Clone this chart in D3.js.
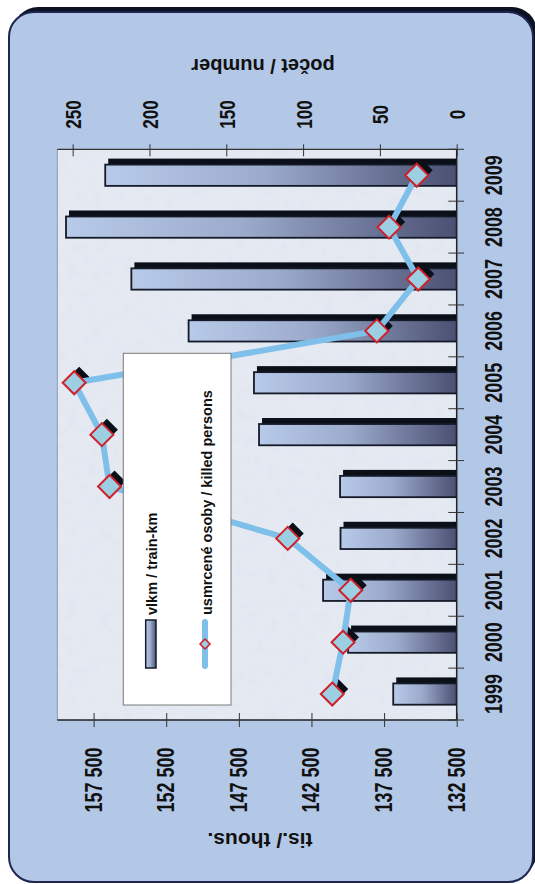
<!DOCTYPE html>
<html>
<head>
<meta charset="utf-8">
<script src="https://cdn.jsdelivr.net/npm/d3@7"></script>
<style>
  html, body { margin: 0; padding: 0; background: #ffffff; }
  svg { display: block; }
  text { font-family: "Liberation Sans", Arial, sans-serif; font-weight: bold; fill: #111; }
</style>
</head>
<body>
<svg id="chart" width="535" height="884"></svg>
<script>
// ---- data ----
const years = ["1999", "2000", "2001", "2002", "2003", "2004", "2005", "2006", "2007", "2008", "2009"];
const trainKm = [136870, 139980, 141700, 140500, 140530, 146110, 146460, 150960, 154900, 159400, 156700];
const killed = [81, 74, 69, 110, 226, 231, 249, 52, 25, 44, 26];
const trainKmTicks = [132500, 137500, 142500, 147500, 152500, 157500];
const killedTicks = [0, 50, 100, 150, 200, 250];
const trainKmDomain = [132500, 160000];
const killedDomain = [0, 260];
const legendLabels = ["vlkm / train-km", "usmrcené osoby / killed persons"];
const axisTitles = { trainKm: "tis./ thous.", killed: "počet / number" };

// ---- layout (screen coords; chart is rotated 90° CCW) ----
const plot = { left: 57.3, right: 456.7, top: 149.3, bottom: 720 };
const svg = d3.select("#chart");
const defs = svg.append("defs");

const grad = defs.append("linearGradient").attr("id", "barGrad")
  .attr("x1", 0).attr("y1", 0).attr("x2", 1).attr("y2", 0);
grad.append("stop").attr("offset", 0).attr("stop-color", "#b8cae9");
grad.append("stop").attr("offset", 0.45).attr("stop-color", "#9cabcc");
grad.append("stop").attr("offset", 1).attr("stop-color", "#4b5073");

const noise = defs.append("filter").attr("id", "noise").attr("x", 0).attr("y", 0).attr("width", 1).attr("height", 1);
noise.append("feTurbulence").attr("type", "fractalNoise").attr("baseFrequency", 0.09).attr("numOctaves", 3).attr("seed", 7);
noise.append("feColorMatrix").attr("type", "matrix")
  .attr("values", "0 0 0 0 0.70  0 0 0 0 0.74  0 0 0 0 0.82  1.6 0 0 0 -0.75");

defs.append("clipPath").attr("id", "plotClip").append("rect")
  .attr("x", plot.left).attr("y", plot.top)
  .attr("width", plot.right - plot.left).attr("height", plot.bottom - plot.top);

// panel
const panel = { x: 9, y: 12, w: 524, h: 870, r: 25 };
svg.append("rect").attr("x", panel.x + 4).attr("y", panel.y - 5).attr("width", panel.w).attr("height", panel.h)
  .attr("rx", panel.r).attr("fill", "#0c1222");
svg.append("rect").attr("x", panel.x).attr("y", panel.y).attr("width", panel.w).attr("height", panel.h)
  .attr("rx", panel.r).attr("fill", "#b3c8e6").attr("stroke", "#1d2550").attr("stroke-width", 2);

// plot background
svg.append("rect").attr("x", plot.left).attr("y", plot.top)
  .attr("width", plot.right - plot.left).attr("height", plot.bottom - plot.top)
  .attr("fill", "#e4e9f2");
svg.append("rect").attr("x", plot.left).attr("y", plot.top)
  .attr("width", plot.right - plot.left).attr("height", plot.bottom - plot.top)
  .attr("filter", "url(#noise)").attr("opacity", 0.5);

// scales
const yBand = d3.scaleBand().domain(years).range([plot.bottom, plot.top]);
const xKm = d3.scaleLinear().domain(trainKmDomain).range([plot.right, plot.left]);
const xKilled = d3.scaleLinear().domain(killedDomain).range([plot.right, plot.left]);
const barH = yBand.bandwidth() * 0.41;
const cy = d => yBand(d) + yBand.bandwidth() / 2;

const gPlot = svg.append("g").attr("clip-path", "url(#plotClip)");

// bar shadows + bars
gPlot.selectAll("rect.shadow").data(years).join("rect").attr("class", "shadow")
  .attr("x", (d, i) => xKm(trainKm[i]) + 3)
  .attr("y", d => cy(d) - barH / 2 - 6)
  .attr("width", (d, i) => plot.right - xKm(trainKm[i]))
  .attr("height", barH)
  .attr("fill", "#0b0f18");
gPlot.selectAll("rect.bar").data(years).join("rect").attr("class", "bar")
  .attr("x", (d, i) => xKm(trainKm[i]))
  .attr("y", d => cy(d) - barH / 2)
  .attr("width", (d, i) => plot.right - xKm(trainKm[i]))
  .attr("height", barH)
  .attr("fill", "url(#barGrad)").attr("stroke", "#151a28").attr("stroke-width", 1.8);

// line
const pts = years.map((d, i) => [xKilled(killed[i]), cy(d)]);
const diamond = (x, y, r) => `M${x},${y - r}L${x + r},${y}L${x},${y + r}L${x - r},${y}Z`;
gPlot.selectAll("path.mshadow").data(pts).join("path").attr("class", "mshadow")
  .attr("d", p => diamond(p[0] + 5, p[1] - 5, 11)).attr("fill", "#0b0f18");
gPlot.append("path").attr("d", d3.line()(pts))
  .attr("fill", "none").attr("stroke", "#7fc0ea").attr("stroke-width", 6).attr("stroke-linejoin", "round");
gPlot.selectAll("path.marker").data(pts).join("path").attr("class", "marker")
  .attr("d", p => diamond(p[0], p[1], 11.5))
  .attr("fill", "#9dcfe3").attr("stroke", "#d0202a").attr("stroke-width", 2);

// plot borders
svg.append("line").attr("x1", plot.left).attr("x2", plot.left).attr("y1", plot.top).attr("y2", plot.bottom)
  .attr("stroke", "#8a98b0").attr("stroke-width", 1);
svg.append("line").attr("x1", plot.left).attr("x2", plot.right).attr("y1", plot.top).attr("y2", plot.top)
  .attr("stroke", "#333").attr("stroke-width", 1.2);
svg.append("line").attr("x1", plot.left).attr("x2", plot.right).attr("y1", plot.bottom).attr("y2", plot.bottom)
  .attr("stroke", "#222").attr("stroke-width", 1.5);
svg.append("line").attr("x1", plot.right).attr("x2", plot.right).attr("y1", plot.top).attr("y2", plot.bottom)
  .attr("stroke", "#222").attr("stroke-width", 1.5);

const fmt = d => d3.format(",")(d).replace(/,/g, " ");
const labScale = "scale(0.78,1)";

// bottom axis (train-km)
const gB = svg.append("g").attr("transform", `translate(0,${plot.bottom})`)
  .call(d3.axisBottom(xKm).tickValues(trainKmTicks).tickFormat(fmt).tickSize(7));
gB.select(".domain").remove();
gB.selectAll(".tick line").attr("y1", -7).attr("stroke", "#333");
gB.selectAll(".tick text").attr("y", null).attr("dy", null)
  .attr("text-anchor", "middle").attr("font-size", 23).attr("fill", "#111")
  .attr("transform", `translate(7.5,60) rotate(-90) ${labScale}`);

// top axis (killed)
const gT = svg.append("g").attr("transform", `translate(0,${plot.top})`)
  .call(d3.axisTop(xKilled).tickValues(killedTicks).tickSize(5));
gT.select(".domain").remove();
gT.selectAll(".tick line").attr("y1", 7).attr("stroke", "#333");
gT.selectAll(".tick text").attr("y", null).attr("dy", null)
  .attr("text-anchor", "middle").attr("font-size", 22).attr("fill", "#111")
  .attr("transform", `translate(8,-34.8) rotate(-90) ${labScale}`);

// year axis
const gY = svg.append("g").attr("transform", `translate(${plot.right},0)`)
  .call(d3.axisRight(yBand).tickSize(0));
gY.select(".domain").remove();
gY.selectAll(".tick text").attr("x", null).attr("dy", null)
  .attr("text-anchor", "middle").attr("font-size", 23).attr("fill", "#111")
  .attr("transform", `translate(45,0) rotate(-90) ${labScale}`);
const bounds = years.map(d => yBand(d)).concat([yBand(years[0]) + yBand.bandwidth()]);
gY.selectAll("line.bt").data(bounds).join("line").attr("class", "bt")
  .attr("x1", -8.4).attr("x2", 7.3).attr("y1", d => d).attr("y2", d => d)
  .attr("stroke", "#333").attr("stroke-width", 1);

// axis titles (upside down)
svg.append("text").text(axisTitles.killed).attr("font-size", 20).attr("text-anchor", "middle")
  .attr("transform", "translate(263,58.8) rotate(180)");
svg.append("text").text(axisTitles.trainKm).attr("font-size", 21).attr("text-anchor", "middle")
  .attr("transform", "translate(260,833) rotate(180)");

// legend
svg.append("rect").attr("x", 123.3).attr("y", 353.3).attr("width", 107.7).attr("height", 351.7)
  .attr("fill", "#ffffff").attr("stroke", "#7a7a7a").attr("stroke-width", 1);
svg.append("rect").attr("x", 145.7).attr("y", 620).attr("width", 10.3).attr("height", 48)
  .attr("fill", "url(#barGrad)").attr("stroke", "#151a28").attr("stroke-width", 1.5);
svg.append("line").attr("x1", 205).attr("x2", 205).attr("y1", 622).attr("y2", 666)
  .attr("stroke", "#7fc0ea").attr("stroke-width", 6).attr("stroke-linecap", "round");
svg.append("path").attr("d", diamond(205, 644, 5)).attr("fill", "#9dcfe3").attr("stroke", "#d0202a").attr("stroke-width", 1.5);
svg.append("text").text(legendLabels[0]).attr("font-size", 14.5)
  .attr("transform", "translate(156.7,615) rotate(-90)");
svg.append("text").text(legendLabels[1]).attr("font-size", 14.5)
  .attr("transform", "translate(212,615) rotate(-90)");
</script>
</body>
</html>
